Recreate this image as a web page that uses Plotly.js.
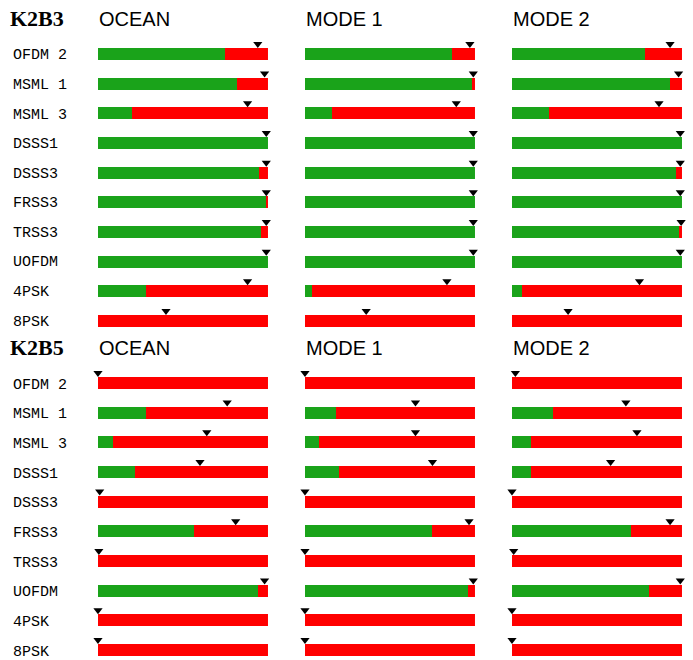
<!DOCTYPE html>
<html><head><meta charset="utf-8">
<script src="https://cdn.plot.ly/plotly-3.0.1.min.js"></script>
<style>body{margin:0}#plot{width:693px;height:660px}</style>
</head><body><div id="plot"></div>
<script>
var schemes = ["OFDM 2","MSML 1","MSML 3","DSSS1","DSSS3","FRSS3","TRSS3","UOFDM","4PSK","8PSK"];
var channels = ["OCEAN","MODE 1","MODE 2"];
var groups = ["K2B3","K2B5"];

// green share of each bar, per group / channel
var k2b3_ocean = [0.75,0.82,0.20,1.00,0.95,0.99,0.96,1.00,0.28,0.00];
var k2b3_mode1 = [0.865,0.98,0.16,1.00,1.00,1.00,1.00,1.00,0.04,0.00];
var k2b3_mode2 = [0.78,0.93,0.22,1.00,0.965,1.00,0.98,1.00,0.06,0.00];
var k2b5_ocean = [0.00,0.28,0.09,0.22,0.00,0.565,0.00,0.94,0.00,0.00];
var k2b5_mode1 = [0.00,0.18,0.08,0.20,0.00,0.75,0.00,0.96,0.00,0.00];
var k2b5_mode2 = [0.00,0.24,0.11,0.11,0.00,0.70,0.00,0.805,0.00,0.00];

// triangle marker positions
var k2b3_ocean_tri = [0.94,0.98,0.88,0.99,0.99,0.99,0.99,0.99,0.88,0.40];
var k2b3_mode1_tri = [0.97,0.99,0.89,0.99,0.99,0.99,0.99,0.99,0.835,0.36];
var k2b3_mode2_tri = [0.93,0.98,0.865,0.99,0.99,0.99,0.995,0.99,0.75,0.33];
var k2b5_ocean_tri = [0.00,0.76,0.64,0.60,0.01,0.81,0.005,0.98,0.00,0.00];
var k2b5_mode1_tri = [0.00,0.65,0.65,0.75,0.00,0.965,0.00,0.99,0.00,0.00];
var k2b5_mode2_tri = [0.02,0.67,0.735,0.58,0.00,0.93,0.01,0.99,0.00,0.00];

var green = [[k2b3_ocean,k2b3_mode1,k2b3_mode2],[k2b5_ocean,k2b5_mode1,k2b5_mode2]];
var tri = [[k2b3_ocean_tri,k2b3_mode1_tri,k2b3_mode2_tri],[k2b5_ocean_tri,k2b5_mode1_tri,k2b5_mode2_tri]];

var xdom = [[0.1414,0.3867],[0.4401,0.6854],[0.7388,0.9841]];
var ydom = [[0.5,0.9429],[0.0017,0.4444]];
var idx = schemes.map(function(s,i){return i;});

var data = [], layout = {
  width:693, height:660, margin:{l:0,r:0,t:0,b:0}, showlegend:false,
  barmode:'stack', paper_bgcolor:'white', plot_bgcolor:'white', annotations:[]
};

for (var g=0; g<2; g++) {
  for (var c=0; c<3; c++) {
    var n = g*3+c+1, xs = n==1?'':n, xa='x'+xs, ya='y'+xs;
    var gr = green[g][c];
    data.push({type:'bar', orientation:'h', x:gr, y:idx, width:0.4, marker:{color:'#1aa31a'},
      xaxis:xa, yaxis:ya, hoverinfo:'skip'});
    data.push({type:'bar', orientation:'h', x:gr.map(function(v){return 1-v;}), y:idx, width:0.4,
      marker:{color:'#ff0000'}, xaxis:xa, yaxis:ya, hoverinfo:'skip'});
    data.push({type:'scatter', mode:'markers', x:tri[g][c], y:idx.map(function(i){return i-0.34;}),
      marker:{symbol:'triangle-down', size:8, color:'black'}, xaxis:xa, yaxis:ya, cliponaxis:false});
    layout['xaxis'+xs] = {domain:xdom[c], range:[0,1], visible:false, anchor:'y'+xs};
    layout['yaxis'+xs] = {domain:ydom[g], range:[9.3,-0.55], visible:false, anchor:'x'+xs};
    layout.annotations.push({xref:'paper', yref:'paper', x:xdom[c][0]-0.002, y:ydom[g][1]+0.029,
      xanchor:'left', yanchor:'middle', text:channels[c], showarrow:false,
      font:{family:'Liberation Sans, Arial', size:20, color:'black'}});
  }
  layout.annotations.push({xref:'paper', yref:'paper', x:0.012, y:ydom[g][1]+0.029,
    xanchor:'left', yanchor:'middle', text:'<b>'+groups[g]+'</b>', showarrow:false,
    font:{family:'Liberation Serif, Times New Roman', size:22, color:'black'}});
  schemes.forEach(function(s,i){
    var top = g==0 ? 56 : 385, pitch = g==0 ? 29.56 : 29.67;
    layout.annotations.push({xref:'paper', yref:'paper', x:0.016, y:1-(top+i*pitch)/660,
      xanchor:'left', yanchor:'middle', text:s, showarrow:false,
      font:{family:'Liberation Mono, Courier New', size:15, color:'black'}});
  });
}

Plotly.newPlot('plot', data, layout, {staticPlot:true});
</script></body></html>
